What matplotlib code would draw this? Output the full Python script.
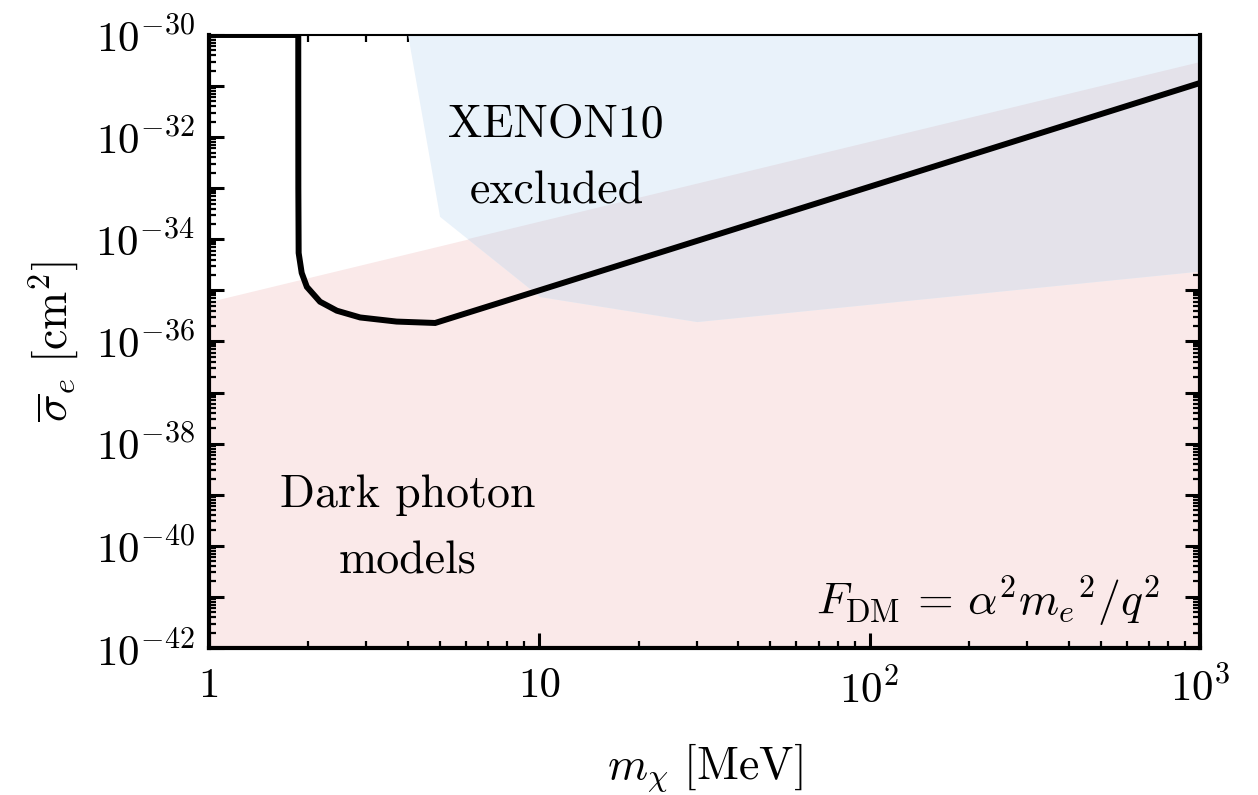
import numpy as np
import matplotlib
matplotlib.use('Agg')
import matplotlib.pyplot as plt
from matplotlib.ticker import FixedLocator, LogLocator, NullFormatter

# Computer Modern look
plt.rcParams['font.family'] = 'serif'
plt.rcParams['font.serif'] = ['cmr10']
plt.rcParams['mathtext.fontset'] = 'cm'
plt.rcParams['axes.formatter.use_mathtext'] = True
plt.rcParams['axes.unicode_minus'] = False

# reach curve
mass = [1, 1.865, 1.865, 1.866, 1.87, 1.91, 1.98, 2.17, 2.44, 2.87, 3.70, 4.84, 10, 100, 1000]
sigma = [1e-30, 1e-30, 1e-31, 1e-33, 5.4e-35, 2.2e-35, 1.17e-35, 6.0e-36, 4.0e-36,
         2.95e-36, 2.45e-36, 2.3e-36, 1.0e-35, 1.07e-33, 1.15e-31]

# XENON10 excluded region (polygon)
xenon_mass = [4.01, 5.01, 10.07, 30.1, 1000, 1000]
xenon_sigma = [1e-30, 2.75e-34, 7.4e-36, 2.4e-36, 2.34e-35, 1e-30]

# dark photon models band (upper edge)
dp_mass = [1, 1000]
dp_sigma = [6.0e-36, 2.95e-31]

xticks = [1, 10, 100, 1000]
xticklabels = ['1', '10', r'$10^2$', r'$10^3$']
ydecades = np.arange(-42, -29)

fig = plt.figure(figsize=(12.58, 7.95), dpi=100)
ax = fig.add_axes([0.166, 0.185, 0.788, 0.771])
ax.set_xscale('log')
ax.set_yscale('log')
ax.set_xlim(1, 1000)
ax.set_ylim(1e-42, 1e-30)

blue = '#e9f2fa'
pink = '#fae9e9'
both = '#e4e2ea'

pk = ax.fill_between(dp_mass, 1e-42, dp_sigma, color=pink, lw=0, zorder=1)
ax.fill(xenon_mass, xenon_sigma, color=blue, lw=0, zorder=2)
# overlap of the two regions
ov = ax.fill(xenon_mass, xenon_sigma, color=both, lw=0, zorder=3)[0]
ov.set_clip_path(pk.get_paths()[0], ax.transData)

ax.plot(mass, sigma, color='black', lw=4.3, zorder=5, solid_joinstyle='miter')

# ticks
ax.xaxis.set_major_locator(FixedLocator(xticks))
ax.set_xticklabels(xticklabels)
ax.xaxis.set_minor_locator(LogLocator(base=10, subs=np.arange(2, 10)))
ax.xaxis.set_minor_formatter(NullFormatter())
ax.yaxis.set_major_locator(FixedLocator(10.0 ** ydecades))
ax.set_yticklabels([r'$10^{%d}$' % d if d % 2 == 0 else '' for d in ydecades])
ax.yaxis.set_minor_locator(LogLocator(base=10, subs=np.arange(2, 10), numticks=50))
ax.yaxis.set_minor_formatter(NullFormatter())

ax.tick_params(which='both', direction='in', top=True, right=True)
ax.tick_params(which='major', length=11, width=2.2, labelsize=31)
ax.tick_params(axis='x', which='major', pad=14)
ax.tick_params(axis='y', which='major', pad=10)
ax.tick_params(which='minor', length=5, width=1.6)

for side in ['left', 'bottom', 'right']:
    ax.spines[side].set_linewidth(3)
ax.spines['top'].set_linewidth(1.5)
for sp in ax.spines.values():
    sp.set_zorder(6)

ax.set_xlabel(r'$m_\chi\ [\mathrm{MeV}]$', fontsize=33, labelpad=22)
ax.set_ylabel(r'$\overline{\sigma}_e\ [\mathrm{cm}^2]$', fontsize=33, labelpad=10)

# labels
ax.text(11.2, 10 ** -31.76, 'XENON10', fontsize=33, ha='center', va='center', zorder=7)
ax.text(11.3, 10 ** -33.07, 'excluded', fontsize=33, ha='center', va='center', zorder=7)
ax.text(4.0, 10 ** -39.0, 'Dark photon', fontsize=33, ha='center', va='center', zorder=7)
ax.text(4.0, 10 ** -40.31, 'models', fontsize=33, ha='center', va='center', zorder=7)
ax.text(0.96, 0.078, r'$F_{\rm DM}\, =\, \alpha^2 {m_e}^2/q^2$', fontsize=33,
        ha='right', va='center', transform=ax.transAxes, zorder=7)

plt.savefig('out.png', dpi=100)
